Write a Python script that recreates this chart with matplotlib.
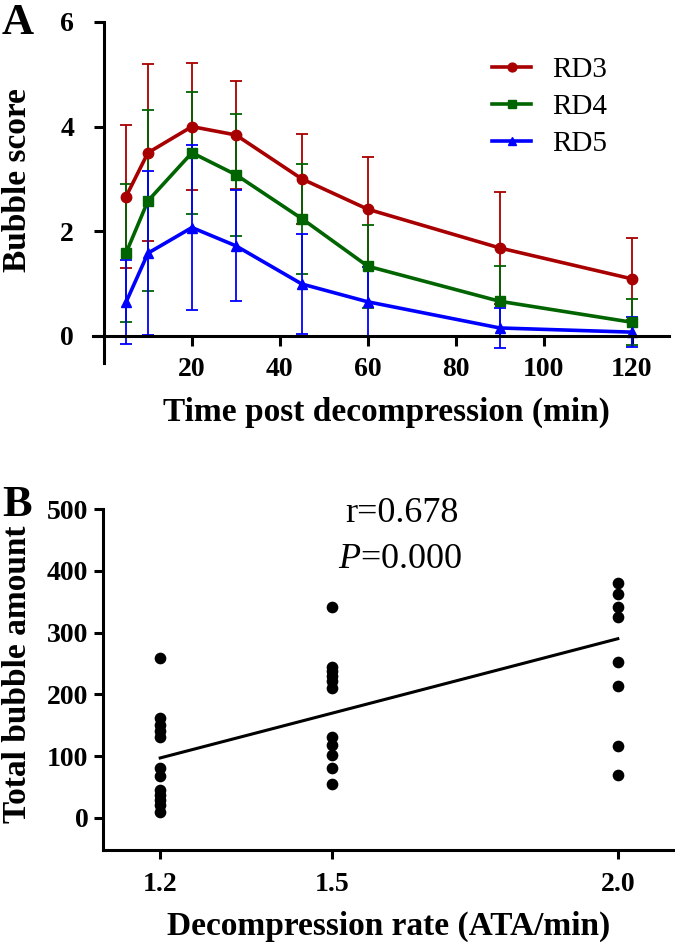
import matplotlib
matplotlib.use('Agg')
import matplotlib.pyplot as plt
from matplotlib.lines import Line2D

plt.rcParams['font.family'] = ['Liberation Serif', 'DejaVu Serif']
plt.rcParams['mathtext.fontset'] = 'custom'
plt.rcParams['mathtext.rm'] = 'Liberation Serif'
plt.rcParams['mathtext.it'] = 'Liberation Serif:italic'

# ---------------- data ----------------
time_min = [5, 10, 20, 30, 45, 60, 90, 120]
rd3_mean = [2.66, 3.50, 4.00, 3.84, 3.00, 2.42, 1.68, 1.09]
rd3_sd = [1.37, 1.69, 1.21, 1.04, 0.86, 1.00, 1.07, 0.78]
rd4_mean = [1.58, 2.58, 3.50, 3.08, 2.24, 1.33, 0.66, 0.26]
rd4_sd = [1.32, 1.73, 1.17, 1.17, 1.05, 0.79, 0.67, 0.44]
rd5_mean = [0.64, 1.58, 2.07, 1.72, 0.99, 0.65, 0.15, 0.07]
rd5_sd = [0.80, 1.57, 1.57, 1.06, 0.96, 0.67, 0.38, 0.28]
series_names = ['RD3', 'RD4', 'RD5']
x_ticks_a = [20, 40, 60, 80, 100, 120]
y_ticks_a = [0, 2, 4, 6]

bubbles_12 = [258, 162, 151, 140, 131, 81, 68, 45, 37, 29, 21, 10]
bubbles_15 = [341, 245, 237, 229, 221, 211, 131, 118, 102, 81, 55]
bubbles_20 = [381, 362, 341, 325, 252, 213, 117, 70]
rates = [1.2, 1.5, 2.0]
fit_x = [1.2, 2.0]
fit_y = [97, 290]
y_ticks_b = [0, 100, 200, 300, 400, 500]
stat_r = 'r=0.678'
stat_p = r'$\it{P}$=0.000'

# ---------------- layout ----------------
W, H = 675, 949
fig = plt.figure(figsize=(W / 100, H / 100), dpi=100)


def rect(l, t, r, b):
    return [l / W, 1 - b / H, (r - l) / W, (b - t) / H]


colors = ['#A80000', '#006400', '#0000FF']
markers = ['o', 's', '^']
msizes = [7.5, 7, 7.5]

# ---------------- Panel A ----------------
axA = fig.add_axes(rect(93, 22, 669, 363))
for m, s, c, mk, ms in zip([rd3_mean, rd4_mean, rd5_mean],
                           [rd3_sd, rd4_sd, rd5_sd], colors, markers, msizes):
    axA.errorbar(time_min, m, yerr=s, color=c, lw=2.6, marker=mk, ms=ms,
                 capsize=4.5, elinewidth=1.3, capthick=1.3, clip_on=False)
axA.set_xlim(-2.5, 128.5)
axA.set_ylim(-0.52, 6)
axA.spines['left'].set_position(('data', 0))
axA.spines['bottom'].set_position(('data', 0))
for sp in ['top', 'right']:
    axA.spines[sp].set_visible(False)
for sp in ['left', 'bottom']:
    axA.spines[sp].set_linewidth(2.2)
axA.set_xticks(x_ticks_a)
axA.set_yticks(y_ticks_a)
axA.tick_params(axis='both', direction='out', length=7.5, width=2.2,
                labelsize=20)
axA.tick_params(axis='x', pad=8)
axA.tick_params(axis='y', pad=14)
for lbl in axA.get_xticklabels() + axA.get_yticklabels():
    lbl.set_fontweight('bold')

handles = [Line2D([], [], color=c, lw=2.6, marker=mk, ms=ms * 0.85)
           for c, mk, ms in zip(colors, markers, msizes)]
axA.legend(handles, series_names, loc='upper left',
           bbox_to_anchor=(492 / W, 1 - 57 / H), bbox_transform=fig.transFigure,
           frameon=False, fontsize=21, handlelength=1.35, handletextpad=0.7,
           labelspacing=0.36, borderpad=0, borderaxespad=0)

fig.text(18 / W, 1 - 180 / H, 'Bubble score', rotation=90, ha='center',
         va='center', fontsize=24, fontweight='bold')
fig.text(386 / W, 1 - 412 / H, 'Time post decompression (min)', ha='center',
         va='center', fontsize=24, fontweight='bold')
fig.text(2 / W, 1 - 23 / H, 'A', ha='left', va='center', fontsize=32,
         fontweight='bold')

# ---------------- Panel B ----------------
axB = fig.add_axes(rect(103, 509, 675, 850))
for r, vals in zip(rates, [bubbles_12, bubbles_15, bubbles_20]):
    axB.plot([r] * len(vals), vals, 'o', color='black', ms=7.4,
             clip_on=False)
axB.plot(fit_x, fit_y, color='black', lw=2.2)
axB.set_xlim(1.1, 2.1)
axB.set_ylim(-52, 500)
for sp in ['top', 'right']:
    axB.spines[sp].set_visible(False)
for sp in ['left', 'bottom']:
    axB.spines[sp].set_linewidth(2.2)
axB.set_xticks(rates)
axB.set_xticklabels(['%.1f' % r for r in rates])
axB.set_yticks(y_ticks_b)
axB.tick_params(axis='both', direction='out', length=6.5, width=2.2,
                labelsize=20)
axB.tick_params(axis='x', pad=9)
axB.tick_params(axis='y', pad=4)
for lbl in axB.get_xticklabels() + axB.get_yticklabels():
    lbl.set_fontweight('bold')

axB.text(402 / W, 1 - 514 / H, stat_r, transform=fig.transFigure,
         ha='center', va='center', fontsize=26)
axB.text(400 / W, 1 - 559 / H, stat_p, transform=fig.transFigure,
         ha='center', va='center', fontsize=26)

fig.text(18 / W, 1 - 674 / H, 'Total bubble amount', rotation=90, ha='center',
         va='center', fontsize=24, fontweight='bold')
fig.text(389 / W, 1 - 926 / H, 'Decompression rate (ATA/min)', ha='center',
         va='center', fontsize=24, fontweight='bold')
fig.text(2 / W, 1 - 505 / H, 'B', ha='left', va='center', fontsize=32,
         fontweight='bold')

fig.savefig('out.png', dpi=100)
